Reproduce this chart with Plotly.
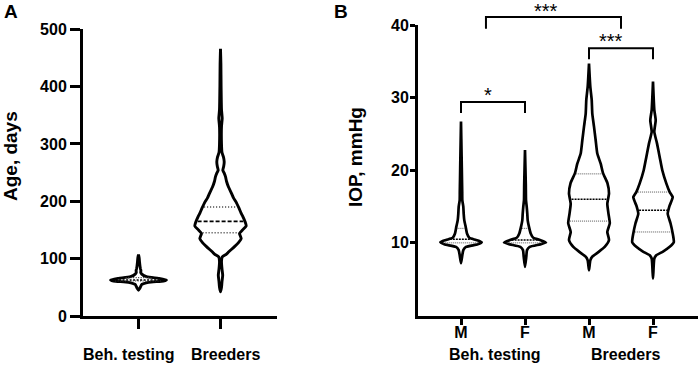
import numpy as np
import plotly.graph_objects as go

W, H = 699, 365

# ---------------- Panel A : Age, days ----------------
age_groups = ["Beh. testing", "Breeders"]
age_ticks = [0, 100, 200, 300, 400, 500]

beh_age_y = [45, 48, 51, 55, 58.7, 61, 63, 65.7, 68.5, 73, 76, 79, 82, 87, 95, 101, 107]
beh_age_dens = [0, 1.2, 2, 3.3, 10, 25, 28, 20, 8, 3.3, 2.2, 2.4, 2.0, 1.5, 1, 0.7, 0]
beh_age_q = [61, 63, 67]

breed_age_y = [42, 50, 60, 71, 82, 95, 103, 108, 112, 121, 128, 135, 144, 150, 157, 165,
               173, 180, 188, 199, 206, 214, 225, 235, 243, 250, 254, 261, 269, 277, 285,
               300, 330, 345, 360, 400, 440, 466]
breed_age_dens = [0, 1, 1.5, 2.2, 1.5, 1, 1.7, 6, 8.3, 14, 18, 20.7, 19, 22, 25.7, 24.5,
                  22.5, 20.5, 18.5, 15.5, 13, 11, 8, 6, 5, 3.5, 2.3, 3.2, 3.7, 3, 1.5,
                  1, 1, 1.7, 1, 0.6, 0.4, 0]
breed_age_q = [145, 165, 190]

# ---------------- Panel B : IOP, mmHg ----------------
iop_sex = ["M", "F", "M", "F"]
iop_groups = ["Beh. testing", "Breeders"]
iop_ticks = [10, 20, 30, 40]

beh_m_y = [7.2, 8.3, 9.0, 9.45, 9.8, 10.1, 10.4, 10.7, 11.3, 12.2, 13.1, 14.0, 15.0, 15.9, 17, 18.6, 22, 26.7]
beh_m_dens = [0, 1.3, 2.3, 5, 16.7, 20.7, 15, 8.3, 6, 4.7, 3.3, 2.7, 2.3, 1.3, 1.2, 1, 0.6, 0]
beh_m_q = [10.0, 10.5, 12.0]

beh_f_y = [6.7, 8.1, 9.0, 9.45, 9.8, 10.05, 10.4, 10.7, 11.3, 12.2, 13.1, 14.0, 15.0, 15.9, 18, 22.8]
beh_f_dens = [0, 1.3, 2, 4.7, 15, 21, 15, 8.3, 5.7, 4, 2.7, 2.3, 1.7, 1, 0.8, 0]
beh_f_q = [10.0, 10.4, 12.0]

br_m_y = [6.2, 7.6, 8.1, 8.8, 9.45, 10.4, 11.5, 12.7, 14.0, 15.4, 16.8, 18.2, 19.6, 20.9,
          22.3, 24.1, 26, 27.8, 29.7, 31.5, 34.7]
br_m_dens = [0, 1.3, 3.3, 10, 15.7, 20, 18.3, 20.8, 19.5, 18.3, 20, 18.5, 14, 11.7,
             8.3, 6.7, 5, 3.3, 2.7, 1.3, 0]
br_m_q = [13.0, 16.0, 19.5]

br_f_y = [5.1, 7.85, 8.3, 8.8, 9.45, 10.1, 11.3, 12.7, 14.0, 15.0, 16.3, 17.0, 18.2, 20.0,
          21.8, 23.7, 25.3, 26.9, 28.3, 32.2]
br_f_dens = [0, 1.3, 3.3, 10, 16.7, 20.8, 19.7, 17.5, 14.7, 16.3, 19.7, 16.7, 13.3, 9.3,
             6.7, 4, 1.3, 2.7, 1.3, 0]
br_f_q = [11.5, 14.5, 17.0]

sig_labels = ["***", "***", "*"]
sig_x0 = [0.39, 2, 0]
sig_x1 = [2.5, 3, 1]
sig_top = [41.1, 36.8, 29.4]
sig_leg = [39.5, 35.3, 27.9]
sig_text_x = [1.33, 2.35, 0.42]

# ---------------- layout geometry (pixels) ----------------
A_left, A_right, A_top, A_bottom = 83, 277, 29.3, 316
B_left, B_right, B_top, B_bottom = 418, 698, 25, 315.5
A_scale = 82.0   # px per x unit (panel A)
B_scale = 64.0   # px per x unit (panel B)
A_xr = [-(138.5 - A_left) / A_scale, (A_right - 138.5) / A_scale]
B_xr = [-(461 - B_left) / B_scale, (B_right - 461) / B_scale]
A_label_shift = [-10, 5]      # px offset of category labels from ticks (panel A)
B_group_x = [0.53, 2.57]      # group label centres (panel B, axis units)
sig_yshift = [-6, -5, -5]

FONT = "Liberation Sans, Arial, sans-serif"


def px(x):
    return x / W


def py(y):
    return 1 - y / H


B_dom = [py(B_bottom), py(B_top)]


def iop_to_paper(v):
    return B_dom[0] + v / 40.0 * (B_dom[1] - B_dom[0])


fig = go.Figure()


def add_violin(xc, ys, dens, q, scale, xa, ya, lw, med_style, q_style):
    ys = np.asarray(ys, float)
    w = np.asarray(dens, float) / scale
    x = np.concatenate([xc + w, (xc - w)[::-1]])
    y = np.concatenate([ys, ys[::-1]])
    fig.add_trace(go.Scatter(
        x=x, y=y, mode="lines", fill="toself", fillcolor="white",
        line=dict(color="black", width=lw, shape="spline", smoothing=0.5),
        xaxis=xa, yaxis=ya, hoverinfo="skip", showlegend=False))
    for i, qv in enumerate(q):
        hw = np.interp(qv, ys, w) - 1.6 / scale
        st = med_style if i == 1 else q_style
        fig.add_trace(go.Scatter(
            x=[xc - hw, xc + hw], y=[qv, qv], mode="lines",
            line=dict(color=st[0], width=st[1], dash=st[2]),
            xaxis=xa, yaxis=ya, hoverinfo="skip", showlegend=False))


# Panel A violins
add_violin(0, beh_age_y, beh_age_dens, beh_age_q, A_scale, "x", "y", 2.9,
           ("black", 1.5, "2px,1.5px"), ("#333", 1.2, "1px,1.5px"))
add_violin(1, breed_age_y, breed_age_dens, breed_age_q, A_scale, "x", "y", 2.9,
           ("black", 1.8, "4px,2px"), ("#333", 1.5, "1px,2px"))

# Panel B violins
for xc, ys, dn, q in [(0, beh_m_y, beh_m_dens, beh_m_q), (1, beh_f_y, beh_f_dens, beh_f_q),
                      (2, br_m_y, br_m_dens, br_m_q), (3, br_f_y, br_f_dens, br_f_q)]:
    add_violin(xc, ys, dn, q, B_scale, "x2", "y2", 2.7,
               ("black", 1.5, "2px,1px"), ("#555", 1.0, "1px,1px"))

axis_common = dict(showline=True, linecolor="black", linewidth=3, ticks="outside",
                   tickwidth=3, tickcolor="black", showgrid=False,
                   zeroline=False, automargin=False, tickangle=0,
                   tickfont=dict(family=FONT, size=16, color="black", weight="bold"))

fig.update_layout(
    width=W, height=H, margin=dict(l=0, r=0, t=0, b=0, autoexpand=False),
    paper_bgcolor="white", plot_bgcolor="white", showlegend=False,
    xaxis=dict(domain=[px(A_left), px(A_right)], range=A_xr, tickmode="array", ticklen=10,
               tickvals=[0, 1], showticklabels=False, anchor="y", **axis_common),
    yaxis=dict(domain=[py(A_bottom), py(A_top)], range=[0, 500], tickmode="array",
               ticklen=10, tickvals=age_ticks, anchor="x", **axis_common),
    xaxis2=dict(domain=[px(B_left), px(B_right)], range=B_xr, tickmode="array", ticklen=6,
                tickvals=[0, 1, 2, 3], ticktext=iop_sex, ticklabelstandoff=-6,
                anchor="y2", **axis_common),
    yaxis2=dict(domain=B_dom, range=[0, 40], tickmode="array", ticklen=5,
                ticklabelstandoff=-2, tickvals=iop_ticks, anchor="x2", **axis_common),
)

label_font = dict(family=FONT, size=16, color="black", weight="bold")

# category labels for panel A
for gx, g, sh in zip([0, 1], age_groups, A_label_shift):
    fig.add_annotation(x=gx, xref="x", y=py(354), yref="paper", text=g, showarrow=False,
                       xshift=sh, font=label_font, xanchor="center", yanchor="middle")

# group labels for panel B
for gx, g in zip(B_group_x, iop_groups):
    fig.add_annotation(x=gx, xref="x2", y=py(354), yref="paper", text=g, showarrow=False,
                       font=label_font, xanchor="center", yanchor="middle")

# axis titles
fig.add_annotation(x=px(10), y=py(156), xref="paper", yref="paper", text="Age, days",
                   textangle=-90, showarrow=False, xanchor="center", yanchor="middle",
                   font=dict(family=FONT, size=19, color="black", weight="bold"))
fig.add_annotation(x=px(355), y=py(157), xref="paper", yref="paper", text="IOP, mmHg",
                   textangle=-90, showarrow=False, xanchor="center", yanchor="middle",
                   font=dict(family=FONT, size=19, color="black", weight="bold"))

# panel letters
for lx, letter in [(11, "A"), (341, "B")]:
    fig.add_annotation(x=px(lx), y=py(12), xref="paper", yref="paper", text=letter,
                       showarrow=False, xanchor="center", yanchor="middle",
                       font=dict(family=FONT, size=19, color="black", weight="bold"))

# significance brackets
for lab, x0, x1, top, leg, tx, ys in zip(sig_labels, sig_x0, sig_x1, sig_top, sig_leg,
                                         sig_text_x, sig_yshift):
    yt, yl = iop_to_paper(top), iop_to_paper(leg)
    fig.add_shape(type="path", xref="x2", yref="paper",
                  path=f"M {x0},{yl} L {x0},{yt} L {x1},{yt} L {x1},{yl}",
                  line=dict(color="black", width=2))
    fig.add_annotation(x=tx, xref="x2", y=yt, yref="paper", yshift=ys, text=lab,
                       showarrow=False, xanchor="center", yanchor="bottom", borderpad=0,
                       font=dict(family=FONT, size=20, color="black"))

fig.write_html("out.html", config={"displayModeBar": False},
               post_script="document.body.style.margin='0px';")
